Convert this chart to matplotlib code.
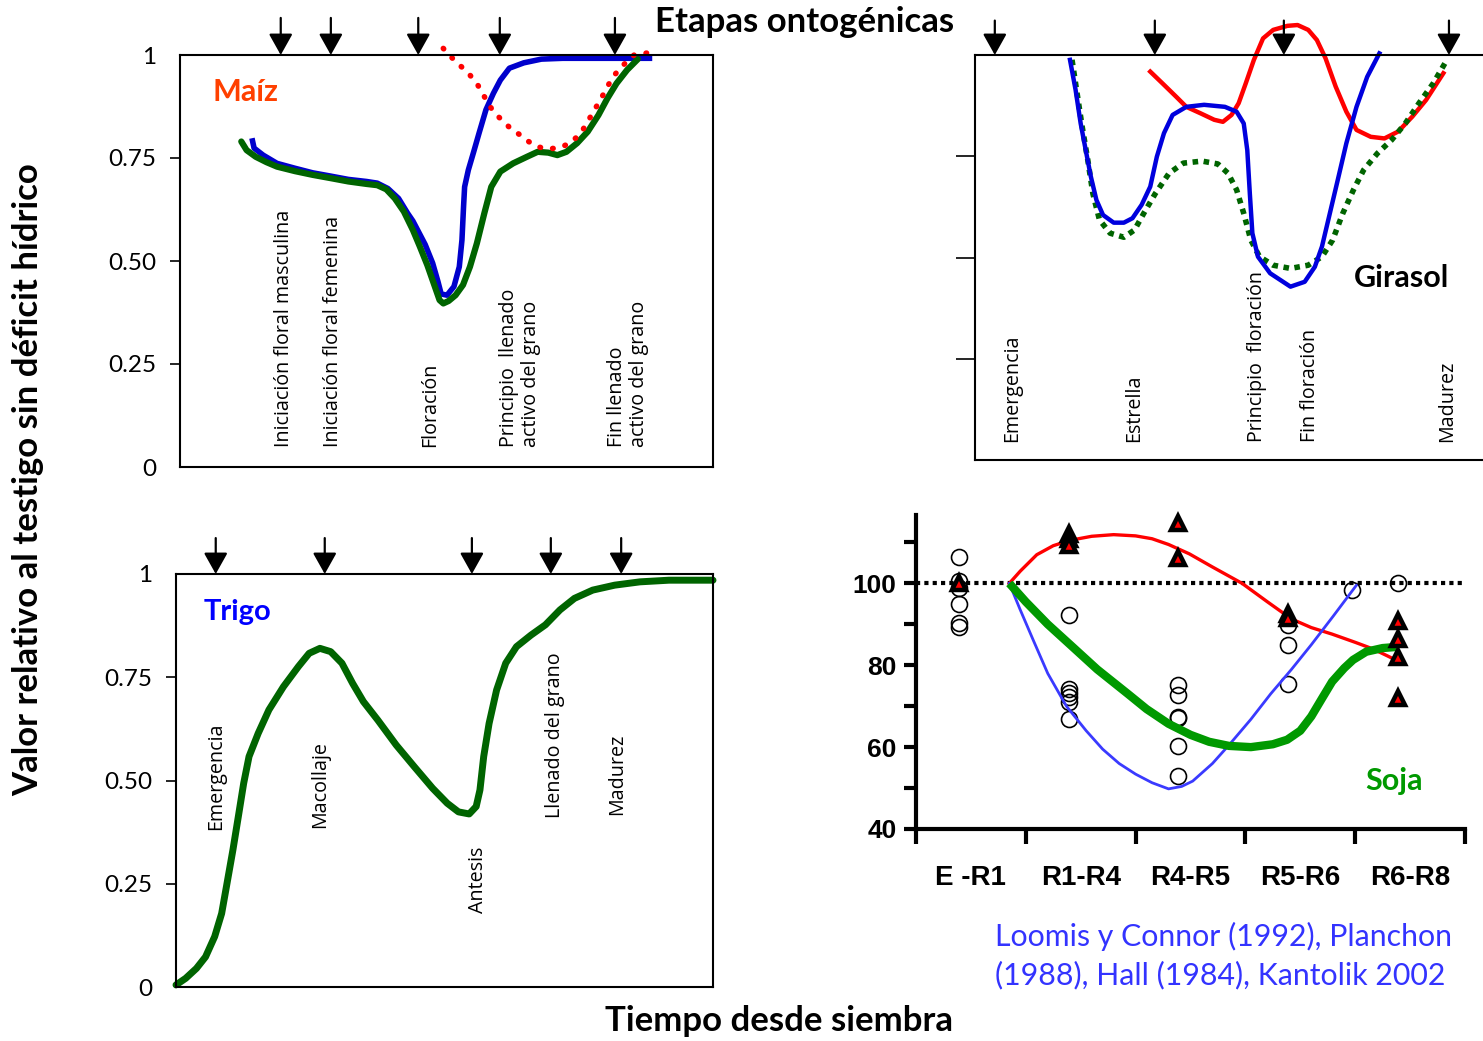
import matplotlib.pyplot as plt

# Maíz (tiempo 0-100, valor relativo 0-1)
maiz_stage_x = [18.9, 28.3, 44.7, 60.0, 81.6]
maiz_label_x = [19.5, 28.7, 46.9, 63.8, 84.1]
maiz_labels = ["Iniciación floral masculina", "Iniciación floral femenina", "Floración",
               "Principio  llenado\nactivo del grano", "Fin llenado\nactivo del grano"]
maiz_green_t = [11.5, 12.5, 14.2, 16.2, 18.2, 21.6, 24.9, 28.3, 31.6, 35.0, 37.0, 38.7, 40.3,
                42.0, 43.7, 45.0, 46.4, 47.7, 48.7, 49.4, 50.4, 51.7, 53.1, 54.4, 55.7, 57.1,
                58.4, 60.1, 62.5, 65.1, 67.1, 69.1, 70.8, 72.5, 74.5, 76.5, 78.5, 80.2, 81.9,
                83.9, 85.9]
maiz_green_v = [0.790, 0.769, 0.753, 0.740, 0.729, 0.718, 0.709, 0.701, 0.693, 0.687, 0.684,
                0.674, 0.652, 0.620, 0.575, 0.535, 0.490, 0.442, 0.405, 0.397, 0.403, 0.417,
                0.442, 0.486, 0.543, 0.616, 0.680, 0.717, 0.737, 0.753, 0.765, 0.763, 0.757,
                0.765, 0.786, 0.814, 0.854, 0.895, 0.931, 0.964, 0.990]
maiz_blue_t = [13.5, 13.9, 15.6, 18.2, 21.6, 24.9, 28.3, 31.6, 35.0, 37.0, 39.0, 41.0, 42.7,
               43.7, 46.0, 47.4, 48.4, 49.0, 50.1, 51.4, 52.4, 52.9, 53.2, 53.4, 54.1, 55.1,
               56.1, 57.4, 58.8, 60.1, 61.8, 64.5, 67.8, 71.8, 78.5, 88.6]
maiz_blue_v = [0.798, 0.774, 0.757, 0.737, 0.725, 0.714, 0.706, 0.698, 0.693, 0.689, 0.676,
               0.652, 0.616, 0.597, 0.540, 0.495, 0.450, 0.420, 0.417, 0.438, 0.486, 0.551,
               0.632, 0.680, 0.721, 0.765, 0.810, 0.867, 0.907, 0.939, 0.968, 0.981, 0.990,
               0.992, 0.992, 0.992]
maiz_red_t = [49.4, 51.7, 53.9, 55.7, 57.1, 58.8, 60.4, 62.0, 63.8, 65.4, 67.1, 69.1, 71.2,
              73.2, 75.2, 77.2, 79.2, 81.2, 83.2, 85.2, 87.2, 89.3]
maiz_red_v = [1.016, 0.984, 0.959, 0.931, 0.899, 0.862, 0.842, 0.822, 0.806, 0.790, 0.777,
              0.772, 0.775, 0.786, 0.810, 0.854, 0.899, 0.947, 0.976, 1.0, 1.004, 1.008]

# Girasol
gir_stage_x = [3.9, 35.4, 60.8, 93.3]
gir_label_x = [7.3, 31.3, 55.5, 65.9, 92.9]
gir_labels = ["Emergencia", "Estrella", "Principio  floración", "Fin floración", "Madurez"]
gir_blue_t = [18.7, 19.8, 20.8, 21.8, 22.8, 23.9, 25.2, 27.3, 29.3, 31.0, 32.8, 34.5, 35.8,
              37.2, 38.9, 41.6, 45.1, 49.2, 51.5, 52.9, 53.6, 54.1, 54.6, 55.7, 58.1, 62.1,
              64.9, 66.9, 68.3, 69.7, 71.4, 73.1, 75.1, 77.2, 79.6]
gir_blue_v = [0.988, 0.914, 0.831, 0.765, 0.700, 0.642, 0.605, 0.586, 0.586, 0.597, 0.630,
              0.675, 0.749, 0.807, 0.852, 0.872, 0.877, 0.872, 0.860, 0.831, 0.765, 0.658,
              0.560, 0.502, 0.461, 0.428, 0.440, 0.477, 0.527, 0.601, 0.691, 0.782, 0.872,
              0.946, 1.004]
gir_green_t = [19.1, 20.1, 21.1, 22.2, 23.2, 24.5, 26.6, 29.3, 31.4, 33.4, 35.5, 38.2, 41.0,
               44.7, 47.8, 49.8, 51.5, 52.9, 54.3, 56.0, 58.7, 62.1, 65.6, 68.3, 70.4, 72.4,
               74.5, 76.5, 79.2, 82.0, 84.7, 87.4, 90.2, 92.9]
gir_green_v = [0.988, 0.905, 0.823, 0.741, 0.658, 0.593, 0.560, 0.550, 0.568, 0.613, 0.658,
               0.708, 0.733, 0.738, 0.731, 0.708, 0.667, 0.609, 0.543, 0.502, 0.481, 0.473,
               0.481, 0.502, 0.543, 0.609, 0.667, 0.716, 0.757, 0.790, 0.831, 0.881, 0.930,
               0.988]
gir_red_t = [34.5, 36.9, 39.6, 41.6, 44.4, 47.1, 48.8, 50.5, 51.9, 53.3, 54.9, 56.7, 58.7,
             61.5, 63.5, 65.6, 67.3, 69.0, 71.0, 73.1, 75.1, 77.9, 80.6, 83.3, 86.1, 88.8, 92.2]
gir_red_v = [0.959, 0.930, 0.897, 0.872, 0.856, 0.840, 0.835, 0.852, 0.881, 0.930, 0.988,
             1.041, 1.062, 1.072, 1.074, 1.062, 1.037, 0.992, 0.922, 0.860, 0.815, 0.798,
             0.794, 0.811, 0.848, 0.889, 0.955]

# Trigo
trigo_stage_x = [7.4, 27.7, 55.1, 69.8, 82.9]
trigo_label_x = [7.4, 26.8, 56.2, 70.6, 82.1]
trigo_label_y = [0.38, 0.385, 0.179, 0.41, 0.416]
trigo_labels = ["Emergencia", "Macollaje", "Antesis", "Llenado del grano", "Madurez"]
trigo_t = [0, 1.8, 3.8, 5.5, 7.2, 8.5, 9.5, 10.6, 11.6, 12.6, 13.6, 15.3, 17.3, 20.0, 22.8,
           24.8, 26.8, 28.8, 30.9, 32.9, 34.9, 37.6, 41.0, 44.4, 47.8, 50.5, 52.6, 54.6, 55.9,
           56.6, 57.3, 58.3, 59.7, 61.4, 63.4, 66.1, 68.8, 71.5, 74.2, 77.6, 81.7, 86.4, 91.8,
           100]
trigo_v = [0.005, 0.021, 0.045, 0.073, 0.122, 0.178, 0.251, 0.332, 0.412, 0.493, 0.558, 0.614,
           0.671, 0.727, 0.776, 0.808, 0.820, 0.812, 0.784, 0.735, 0.691, 0.646, 0.586, 0.533,
           0.481, 0.445, 0.424, 0.419, 0.437, 0.477, 0.558, 0.638, 0.719, 0.784, 0.824, 0.852,
           0.877, 0.913, 0.941, 0.961, 0.973, 0.981, 0.985, 0.985]

ticks01 = [0, 0.25, 0.5, 0.75, 1]
ticks01_labels = ["0", "0.25", "0.50", "0.75", "1"]

# Soja
soja_cats = ["E -R1", "R1-R4", "R4-R5", "R5-R6", "R6-R8"]
soja_circles = [[106.5, 100.5, 98.8, 95, 90.3, 89.3],
                [92.3, 74.2, 73.3, 72.3, 71, 66.8],
                [75.2, 72.8, 67.3, 67.0, 60.3, 53],
                [89.8, 85, 75.3],
                [100]]
soja_triangles = [[100], [112, 110.8, 109.3], [114.8, 106.3], [92.5, 91.5], [90.9, 86.5, 81.9, 72.1]]
soja_extra_x = [3.97]
soja_extra_y = [98.3]
soja_red_x = [0.85, 0.95, 1.1, 1.25, 1.4, 1.6, 1.8, 2.0, 2.15, 2.3, 2.49, 2.7, 2.97, 3.2, 3.42,
              3.6, 3.79, 4.0, 4.16, 4.3, 4.39]
soja_red_y = [100, 103, 107, 109.2, 110.5, 111.5, 111.9, 111.6, 110.9, 109.5, 107.2, 104, 100,
              95.5, 91.3, 89.2, 87.6, 85.6, 84, 82.2, 81]
soja_blue_x = [0.85, 0.95, 1.07, 1.2, 1.37, 1.55, 1.7, 1.85, 2.0, 2.15, 2.3, 2.42, 2.52, 2.7,
               2.86, 3.05, 3.23, 3.42, 3.6, 3.8, 4.01]
soja_blue_y = [100, 93.5, 86, 78, 70, 64, 59.5, 56, 53.4, 51.3, 49.8, 50.4, 51.7, 56, 60.8, 66.8,
               73, 79, 85, 92, 99.5]
soja_green_x = [0.85, 1.0, 1.2, 1.405, 1.65, 1.93, 2.1, 2.3, 2.5, 2.67, 2.85, 3.05, 3.25, 3.38,
                3.5, 3.6, 3.7, 3.79, 3.9, 3.98, 4.1, 4.25, 4.39]
soja_green_y = [100, 95.5, 90, 85, 79, 73, 69.3, 65.7, 63, 61.3, 60.3, 60, 60.7, 61.8, 64, 67.5,
                72, 76, 79.3, 81.3, 83.3, 84.2, 84.5]

W, H = 1483, 1041
fig = plt.figure(figsize=(W / 100, H / 100), dpi=100)
FONT = "Lato"
SMALL = "Open Sans"


def box(l, t, r, b):
    return fig.add_axes([l / W, 1 - b / H, (r - l) / W, (b - t) / H])


def arrows(ax, xs, top=1.09):
    for x in xs:
        ax.annotate("", xy=(x, 1.0), xycoords=("data", "axes fraction"),
                    xytext=(x, top), textcoords=("data", "axes fraction"),
                    arrowprops=dict(arrowstyle="-|>,head_length=0.5,head_width=0.28", color="k",
                                    lw=1.6, mutation_scale=26, shrinkA=0, shrinkB=0),
                    annotation_clip=False)


def stage_labels(ax, xs, names, ys):
    tr = ax.get_xaxis_transform()
    for x, s, y in zip(xs, names, ys):
        ax.text(x, y, s, rotation=90, ha="center", va="bottom", fontsize=14.2,
                family=SMALL, transform=tr, multialignment="left", linespacing=1.15)


def frame(ax, labels=True):
    ax.set_xlim(0, 100)
    ax.set_ylim(0, 1)
    ax.set_xticks([])
    for s in ax.spines.values():
        s.set_linewidth(1.5)
    if labels:
        ax.set_yticks(ticks01)
        ax.set_yticklabels(ticks01_labels, family=FONT, fontsize=17.5)
        ax.tick_params(axis="y", length=7, width=1.2, pad=10)
        for t in ax.yaxis.get_major_ticks()[::4]:
            t.tick1line.set_visible(False)
    else:
        ax.set_yticks(ticks01[1:4])
        ax.set_yticklabels([])
        ax.tick_params(axis="y", length=14, width=1.2)


# --- Maíz
ax1 = box(180, 55, 713, 467)
frame(ax1)
ax1.plot(maiz_blue_t, maiz_blue_v, color="#0000cc", lw=4.0, solid_capstyle="butt",
         solid_joinstyle="round", clip_on=False)
ax1.plot(maiz_green_t, maiz_green_v, color="#006400", lw=4.5, solid_capstyle="round",
         solid_joinstyle="round", clip_on=False)
ax1.plot(maiz_red_t, maiz_red_v, color="#ff0000", lw=4.0, linestyle=(0, (0.1, 2.2)),
         dash_capstyle="round", clip_on=False)
arrows(ax1, maiz_stage_x)
stage_labels(ax1, maiz_label_x, maiz_labels, [0.049] * 5)
ax1.text(12.2, 0.91, "Maíz", color="#ff4000", fontsize=22, fontweight="bold", family=FONT,
         ha="center", va="center")

# --- Girasol
ax2 = box(975, 55, 1483, 460)
frame(ax2, labels=False)
ax2.spines["right"].set_visible(False)
ax2.plot(gir_red_t, gir_red_v, color="#ff0000", lw=3.2, solid_joinstyle="round", clip_on=False)
ax2.plot(gir_green_t, gir_green_v, color="#006400", lw=4.0, linestyle=(0, (1, 1)), clip_on=False)
ax2.plot(gir_blue_t, gir_blue_v, color="#0000dd", lw=3.2, solid_joinstyle="round", clip_on=False)
arrows(ax2, gir_stage_x, top=1.085)
stage_labels(ax2, gir_label_x, gir_labels, [0.044] * 5)
ax2.text(84, 0.449, "Girasol", color="black", fontsize=22, fontweight="bold", family=FONT,
         ha="center", va="center")

# --- Trigo
ax3 = box(176, 574, 713, 987)
frame(ax3)
ax3.plot(trigo_t, trigo_v, color="#006400", lw=5.0, solid_capstyle="round",
         solid_joinstyle="round", clip_on=False)
arrows(ax3, trigo_stage_x, top=1.087)
stage_labels(ax3, trigo_label_x, trigo_labels, trigo_label_y)
ax3.text(11.4, 0.908, "Trigo", color="#0000ff", fontsize=21, fontweight="bold", family=FONT,
         ha="center", va="center")

# --- Soja
ax4 = box(916, 515, 1465, 829)
ax4.set_xlim(0, 5)
ax4.set_ylim(40, 116.7)
for s in ["top", "right"]:
    ax4.spines[s].set_visible(False)
for s in ["left", "bottom"]:
    ax4.spines[s].set_linewidth(3)
ax4.set_yticks([40, 60, 80, 100])
ax4.set_yticks([50, 70, 90, 110], minor=True)
ax4.set_yticklabels(["40", "60", "80", "100"], fontsize=19, fontweight="bold",
                    family="Liberation Sans")
ax4.tick_params(axis="y", which="both", length=9, width=3, pad=5)
ax4.set_xticks(range(len(soja_cats) + 1))
ax4.set_xticklabels([])
ax4.set_xticks([i + 0.5 for i in range(len(soja_cats))], minor=True)
ax4.set_xticklabels(soja_cats, minor=True, fontsize=20, fontweight="bold", family="Liberation Sans")
ax4.tick_params(axis="x", which="major", length=11, width=3)
ax4.tick_params(axis="x", which="minor", length=0, pad=26)

ax4.axhline(100, color="black", lw=3, linestyle=(0, (1, 1)), zorder=1)
for i, vals in enumerate(soja_circles):
    ax4.plot([i + 0.39] * len(vals), vals, "o", ms=11.5, mfc="none", mec="black", mew=1.2,
             zorder=2, clip_on=False)
ax4.plot(soja_extra_x, soja_extra_y, "o", ms=11.5, mfc="none", mec="black", mew=1.2, zorder=2)
ax4.plot(soja_red_x, soja_red_y, color="#ff0000", lw=2.4, zorder=3)
ax4.plot(soja_blue_x, soja_blue_y, color="#3a3aff", lw=2.0, zorder=3)
ax4.plot(soja_green_x, soja_green_y, color="#009900", lw=6.0, zorder=4, solid_capstyle="butt",
         solid_joinstyle="round")
for i, vals in enumerate(soja_triangles):
    ax4.plot([i + 0.39] * len(vals), vals, "^", ms=10.5, mfc="#ff0000", mec="black", mew=3.2,
             zorder=5, clip_on=False)
ax4.text(4.35, 51.8, "Soja", color="#009900", fontsize=22, fontweight="bold", family=FONT,
         ha="center", va="center")

# --- Textos generales
fig.text(805 / W, 1 - 22 / H, "Etapas ontogénicas", fontsize=25, fontweight="bold", family=FONT,
         ha="center", va="center")
fig.text(779 / W, 1 - 1021 / H, "Tiempo desde siembra", fontsize=25, fontweight="bold",
         family=FONT, ha="center", va="center")
fig.text(28 / W, 1 - 480 / H, "Valor relativo al testigo sin déficit hídrico", fontsize=25,
         fontweight="bold", family=FONT, rotation=90, ha="center", va="center")
fig.text(995 / W, 1 - 956 / H, "Loomis y Connor (1992), Planchon\n(1988), Hall (1984), Kantolik 2002",
         fontsize=21.8, color="#3333ff", family=FONT, ha="left", va="center", linespacing=1.42)

fig.savefig("out.png", dpi=100)
